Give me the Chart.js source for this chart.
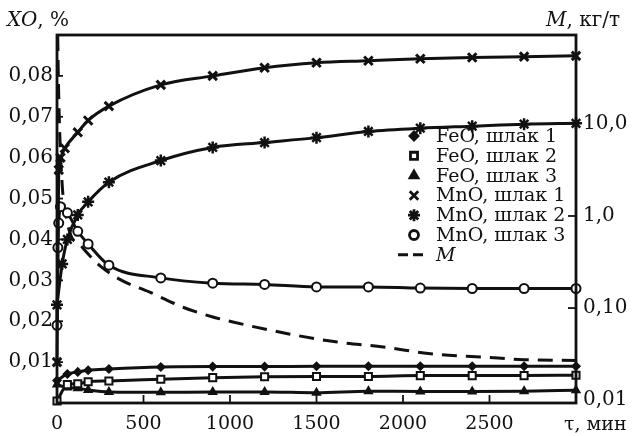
<!DOCTYPE html>
<html><head><meta charset="utf-8">
<script src="https://cdn.jsdelivr.net/npm/chart.js@4.4.0/dist/chart.umd.min.js"></script>
<style>html,body{margin:0;padding:0;background:#fff}#wrap{width:638px;height:436px}</style>
</head><body><div id="wrap"><canvas id="c" width="638" height="436"></canvas></div>
<script>
// ---- data (time in minutes) ----
const timeFeO = [0, 60, 120, 180, 300, 600, 900, 1200, 1500, 1800, 2100, 2400, 2700, 3000];
const feo1 = [0.0055, 0.0071, 0.0076, 0.0080, 0.0083, 0.0088, 0.0089, 0.0089, 0.0090, 0.0090, 0.0090, 0.0090, 0.0090, 0.0090];
const feo2 = [0.0005, 0.0045, 0.0047, 0.0052, 0.0054, 0.0058, 0.0062, 0.0064, 0.0065, 0.0065, 0.0067, 0.0067, 0.0067, 0.0068];
const feo3 = [0.0045, 0.0038, 0.0036, 0.0032, 0.0027, 0.0026, 0.0027, 0.0027, 0.0025, 0.0029, 0.0028, 0.0028, 0.0029, 0.0031];

const timeMnO1 = [0, 10, 20, 45, 120, 180, 300, 600, 900, 1200, 1500, 1800, 2100, 2400, 2700, 3000];
const mno1 = [0.010, 0.057, 0.060, 0.0623, 0.0662, 0.0691, 0.0726, 0.0778, 0.0800, 0.0820, 0.0832, 0.0837, 0.0842, 0.0845, 0.0847, 0.0849];

const timeMnO2 = [0, 30, 60, 120, 180, 300, 600, 900, 1200, 1500, 1800, 2100, 2400, 2700, 3000];
const mno2 = [0.024, 0.034, 0.040, 0.046, 0.0492, 0.054, 0.0593, 0.0625, 0.0637, 0.0649, 0.0664, 0.0672, 0.0677, 0.0682, 0.0684];

const timeMnO3 = [0, 5, 10, 20, 60, 120, 180, 300, 600, 900, 1200, 1500, 1800, 2100, 2400, 2700, 3000];
const mno3 = [0.019, 0.038, 0.044, 0.048, 0.0465, 0.042, 0.0389, 0.0337, 0.0306, 0.0293, 0.0290, 0.0284, 0.0284, 0.0281, 0.0280, 0.0280, 0.0280];

const timeM = [0, 10, 30, 60, 84, 130, 153, 258, 374, 536, 728, 901, 1017, 1348, 1620, 1887, 2177, 2467, 2700, 3000];
const mVals = [300, 20, 2.2, 0.85, 0.59, 0.50, 0.44, 0.278, 0.20, 0.149, 0.102, 0.080, 0.0705, 0.052, 0.0427, 0.0377, 0.0316, 0.0293, 0.0275, 0.027];

const xTickLabels = ['0', '500', '1000', '1500', '2000', '2500'];
const yLeftTicks = [0.01, 0.02, 0.03, 0.04, 0.05, 0.06, 0.07, 0.08];
const yRightTicks = [0.01, 0.1, 1, 10];
const yRightLabels = ['0,01', '0,10', '1,0', '10,0'];
const legendLabels = ['FeO, шлак 1', 'FeO, шлак 2', 'FeO, шлак 3', 'MnO, шлак 1', 'MnO, шлак 2', 'MnO, шлак 3', 'M'];

const pts = (t, v) => t.map((x, i) => ({x: x, y: v[i]}));
const INK = '#111';
const FONT = 'DejaVu Serif';
const LW = 3;

const base = {borderColor: INK, borderWidth: LW, cubicInterpolationMode: 'monotone', clip: false, yAxisID: 'y',
  pointBorderColor: INK};

const datasets = [
  Object.assign({}, base, {label: legendLabels[0], data: pts(timeFeO, feo1), pointStyle: 'rectRot', pointRadius: 4, pointBackgroundColor: INK, pointBorderWidth: 1.5}),
  Object.assign({}, base, {label: legendLabels[1], data: pts(timeFeO, feo2), pointStyle: 'rect', pointRadius: 5, pointBackgroundColor: '#fff', pointBorderWidth: 2}),
  Object.assign({}, base, {label: legendLabels[2], data: pts(timeFeO, feo3), pointStyle: 'triangle', pointRadius: 4.5, pointBackgroundColor: INK, pointBorderWidth: 1.5}),
  Object.assign({}, base, {label: legendLabels[3], data: pts(timeMnO1, mno1), pointStyle: 'crossRot', pointRadius: 6, pointBackgroundColor: INK, pointBorderWidth: 3}),
  Object.assign({}, base, {label: legendLabels[4], data: pts(timeMnO2, mno2), pointStyle: 'star', pointRadius: 6, pointBackgroundColor: INK, pointBorderWidth: 2.5}),
  Object.assign({}, base, {label: legendLabels[5], data: pts(timeMnO3, mno3), pointStyle: 'circle', pointRadius: 4.5, pointBackgroundColor: '#fff', pointBorderWidth: 2}),
  {label: legendLabels[6], data: pts(timeM, mVals), yAxisID: 'y2', borderColor: INK, borderWidth: LW, borderDash: [15, 9],
   pointRadius: 0, cubicInterpolationMode: 'monotone'}
];

function line(ctx, x1, y1, x2, y2) { ctx.beginPath(); ctx.moveTo(x1, y1); ctx.lineTo(x2, y2); ctx.stroke(); }

const decor = {
  id: 'decor',
  afterDraw(chart) {
    const {ctx, chartArea: a, scales} = chart;
    ctx.save();
    ctx.strokeStyle = INK; ctx.fillStyle = INK;
    ctx.lineWidth = 1.8;
    [500, 1000, 1500, 2000, 2500].forEach(v => { const px = scales.x.getPixelForValue(v); line(ctx, px, a.bottom, px, a.bottom - 8); });
    yLeftTicks.forEach(v => { const py = scales.y.getPixelForValue(v); line(ctx, a.left, py, a.left + 6, py); });
    [0.1, 1, 10].forEach(v => { const py = scales.y2.getPixelForValue(v); line(ctx, a.right, py, a.right - 8, py); });
    ctx.lineWidth = 2.8;
    ctx.strokeRect(a.left, a.top, a.right - a.left, a.bottom - a.top);

    // axis titles
    ctx.textBaseline = 'alphabetic'; ctx.textAlign = 'left';
    ctx.font = 'italic 20px "' + FONT + '"';
    ctx.fillText('XO', 7, 26);
    let w = ctx.measureText('XO').width;
    ctx.font = '20px "' + FONT + '"';
    ctx.fillText(', %', 7 + w, 26);
    ctx.font = 'italic 20px "' + FONT + '"';
    ctx.fillText('M', 546, 26);
    w = ctx.measureText('M').width;
    ctx.font = '20px "' + FONT + '"';
    ctx.fillText(', кг/т', 546 + w, 26);
    ctx.font = '19px "' + FONT + '"';
    ctx.fillText('τ, мин', 564, 430);

    // legend
    const lx = 414, tx = 436, ly0 = 136, dy = 19.8;
    datasets.forEach((ds, i) => {
      const y = ly0 + i * dy;
      if (i < 6) {
        ctx.fillStyle = ds.pointBackgroundColor; ctx.strokeStyle = INK;
        Chart.helpers.drawPoint(ctx, {pointStyle: ds.pointStyle, radius: ds.pointRadius, borderWidth: ds.pointBorderWidth, rotation: 0}, lx, y);
        ctx.fillStyle = INK;
        ctx.font = '19px "' + FONT + '"';
        ctx.fillText(ds.label, tx, y + 6);
      } else {
        ctx.setLineDash([10, 5]); ctx.lineWidth = LW; ctx.strokeStyle = INK;
        line(ctx, 398, y, 425, y);
        ctx.setLineDash([]);
        ctx.fillStyle = INK;
        ctx.font = 'italic 19px "' + FONT + '"';
        ctx.fillText(ds.label, tx, y + 6);
      }
    });
    ctx.restore();
  }
};

new Chart(document.getElementById('c'), {
  type: 'line',
  data: {datasets: datasets},
  options: {
    responsive: false, animation: false, events: [],
    layout: {padding: {top: 35, left: 0, right: 0, bottom: 0}},
    plugins: {legend: {display: false}, tooltip: {enabled: false}},
    scales: {
      x: {type: 'linear', min: 0, max: 3000,
        grid: {display: false, drawTicks: false}, border: {display: false},
        ticks: {stepSize: 500, padding: 10, color: INK, autoSkip: false, maxRotation: 0,
          font: {family: FONT, size: 19},
          callback: (v) => { const i = Math.round(v / 500); return (v % 500 === 0 && i < xTickLabels.length) ? xTickLabels[i] : ''; }},
        afterFit(s) { s.height = 33; }},
      y: {type: 'linear', position: 'left', min: 0, max: 0.09,
        grid: {display: false, drawTicks: false}, border: {display: false},
        afterBuildTicks(s) { s.ticks = yLeftTicks.map(v => ({value: v})); },
        ticks: {padding: 4, color: INK, font: {family: FONT, size: 20},
          callback: (v) => v.toFixed(2).replace('.', ',')},
        afterFit(s) { s.width = 57; }},
      y2: {type: 'logarithmic', position: 'right', min: 0.0093, max: 92.5,
        grid: {display: false, drawTicks: false}, border: {display: false},
        afterBuildTicks(s) { s.ticks = yRightTicks.map(v => ({value: v})); },
        ticks: {padding: 7, color: INK, font: {family: FONT, size: 20},
          callback: (v) => { const i = yRightTicks.findIndex(t => Math.abs(t - v) / t < 1e-6); return i >= 0 ? yRightLabels[i] : ''; }},
        afterFit(s) { s.width = 62; }}
    }
  },
  plugins: [decor]
});
</script>
</body></html>
